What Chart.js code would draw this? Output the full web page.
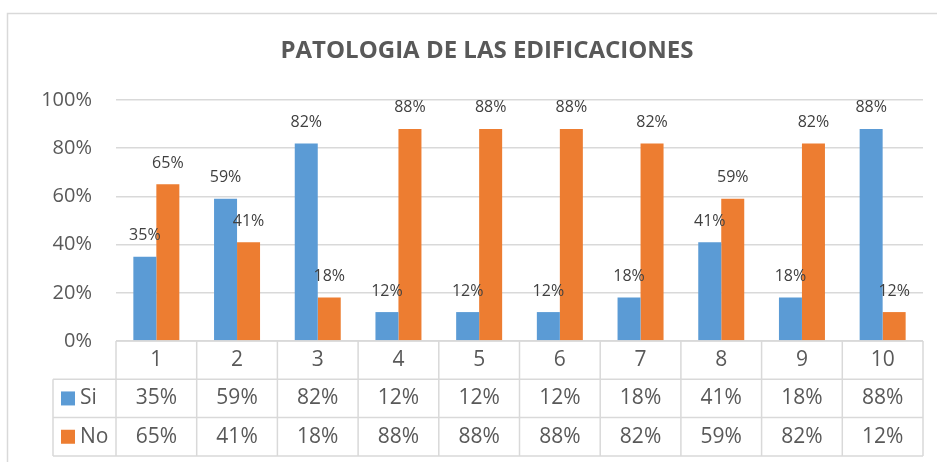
<!DOCTYPE html>
<html>
<head>
<meta charset="utf-8">
<script src="https://cdn.jsdelivr.net/npm/chart.js@4.4.0/dist/chart.umd.min.js"></script>
<style>
  html, body { margin: 0; padding: 0; background: #fff; }
  #wrap { width: 937px; height: 462px; position: relative; }
</style>
</head>
<body>
<div id="wrap"><canvas id="chart" width="937" height="462"></canvas></div>
<script>
// Data
const categories = ['1', '2', '3', '4', '5', '6', '7', '8', '9', '10'];
const siValues = [35, 59, 82, 12, 12, 12, 18, 41, 18, 88];
const noValues = [65, 41, 18, 88, 88, 88, 82, 59, 82, 12];
const seriesNames = ['Si', 'No'];
const seriesColors = ['#5b9bd5', '#ed7d31'];
const chartTitle = 'PATOLOGIA DE LAS EDIFICACIONES';

const FONT = "'Open Sans', 'Liberation Sans', sans-serif";
const TEXT = '#595959';
const LINE = '#d9d9d9';

// Draws the data labels above each bar
const barLabels = {
    id: 'barLabels',
    afterDatasetsDraw(chart) {
        const ctx = chart.ctx;
        ctx.save();
        ctx.font = '16px ' + FONT;
        ctx.fillStyle = '#404040';
        ctx.textAlign = 'center';
        ctx.textBaseline = 'middle';
        chart.data.datasets.forEach((ds, di) => {
            const meta = chart.getDatasetMeta(di);
            meta.data.forEach((bar, i) => {
                ctx.fillText(ds.data[i] + '%', bar.x, bar.y - 21);
            });
        });
        ctx.restore();
    }
};

// Draws the title, the data table under the plot and the outer frame
const dataTable = {
    id: 'dataTable',
    afterDraw(chart) {
        const ctx = chart.ctx;
        const area = chart.chartArea;
        const xs = chart.scales.x;
        const colW = (area.right - area.left) / categories.length;
        const rowH = 38.3;
        const top = area.bottom;
        const legendLeft = 53;
        const rows = [siValues, noValues];

        ctx.save();
        // title (centred on the frame, which runs past the right edge)
        ctx.font = 'bold 24px ' + FONT;
        ctx.fillStyle = TEXT;
        ctx.textAlign = 'center';
        ctx.textBaseline = 'middle';
        ctx.fillText(chartTitle, 487, 51);

        ctx.strokeStyle = LINE;
        ctx.lineWidth = 1.5;
        ctx.beginPath();
        // horizontal lines
        ctx.moveTo(area.left, top);
        ctx.lineTo(area.right, top);
        for (let r = 1; r <= 3; r++) {
            ctx.moveTo(legendLeft, top + r * rowH);
            ctx.lineTo(area.right, top + r * rowH);
        }
        // vertical lines
        for (let c = 0; c <= categories.length; c++) {
            const x = area.left + c * colW;
            ctx.moveTo(x, top);
            ctx.lineTo(x, top + 3 * rowH);
        }
        ctx.moveTo(legendLeft, top + rowH);
        ctx.lineTo(legendLeft, top + 3 * rowH);
        // outer chart frame
        ctx.moveTo(7.5, 462);
        ctx.lineTo(7.5, 13.5);
        ctx.lineTo(937, 13.5);
        ctx.stroke();

        ctx.font = '21px ' + FONT;
        ctx.fillStyle = TEXT;
        categories.forEach((cat, i) => {
            const x = xs.getPixelForValue(i);
            ctx.fillText(cat, x, top + rowH / 2);
            rows.forEach((vals, r) => {
                ctx.fillText(vals[i] + '%', x, top + (r + 1.5) * rowH);
            });
        });

        // legend keys
        ctx.textAlign = 'left';
        seriesNames.forEach((name, r) => {
            const cy = top + (r + 1.5) * rowH;
            ctx.fillStyle = seriesColors[r];
            ctx.fillRect(61, cy - 7, 14, 14);
            ctx.fillStyle = TEXT;
            ctx.fillText(name, 80, cy);
        });
        ctx.restore();
    }
};

new Chart(document.getElementById('chart').getContext('2d'), {
    type: 'bar',
    data: {
        labels: categories,
        datasets: [
            { label: seriesNames[0], data: siValues, backgroundColor: seriesColors[0] },
            { label: seriesNames[1], data: noValues, backgroundColor: seriesColors[1] }
        ]
    },
    options: {
        responsive: false,
        animation: false,
        devicePixelRatio: 1,
        categoryPercentage: 0.57,
        barPercentage: 1,
        layout: { padding: { left: 0, right: 14, top: 100, bottom: 121 } },
        scales: {
            x: { display: false },
            y: {
                min: 0,
                max: 100,
                afterFit: (s) => { s.width = 116; },
                ticks: {
                    stepSize: 20,
                    padding: 24,
                    color: TEXT,
                    font: { size: 20, family: FONT },
                    callback: (v) => v + '%'
                },
                grid: { color: LINE, lineWidth: 1.5, drawTicks: false },
                border: { display: false }
            }
        },
        plugins: {
            legend: { display: false },
            tooltip: { enabled: false },
            title: { display: false }
        }
    },
    plugins: [barLabels, dataTable]
});
</script>
</body>
</html>
